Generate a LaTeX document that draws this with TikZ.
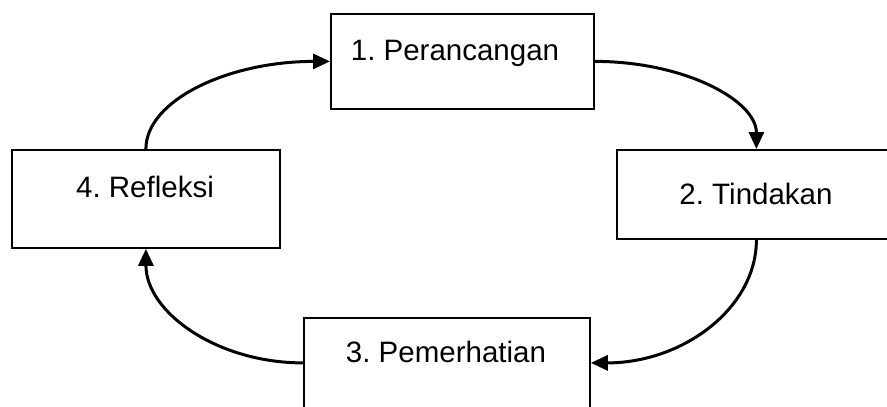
\documentclass[tikz,border=0pt]{standalone}
\usepackage{fontspec}
\setmainfont{Liberation Sans}
\usetikzlibrary{arrows.meta}
\frenchspacing
\begin{document}
\begin{tikzpicture}[x=1pt,y=-1pt,
  box/.style={draw=black,line width=1.8pt,fill=white,inner sep=0pt,anchor=north west},
  lbl/.style={anchor=base,inner sep=0pt,font=\fontsize{29.5}{35}\selectfont},
  conn/.style={line width=3pt,-{Triangle[length=17pt,width=15pt]}}]
\useasboundingbox (0,0) rectangle (887,407);
\clip (0,0) rectangle (887,407);
\fill[white] (0,0) rectangle (887,407);
\node[box,minimum width=263pt,minimum height=95pt] (b1) at (330,13) {};
\node[box,minimum width=279pt,minimum height=89pt] (b2) at (616,149) {};
\node[box,minimum width=286pt,minimum height=90pt] (b3) at (303,317) {};
\node[box,minimum width=268pt,minimum height=98pt] (b4) at (11,149) {};
\node[lbl] (t1) at (455,60) {1. Perancangan};
\node[lbl] (t2) at (756,204) {2. Tindakan};
\node[lbl] (t3) at (446,362) {3. Pemerhatian};
\node[lbl] (t4) at (145,197) {4. Refleksi};
\draw[conn] (b4.north) .. controls +(0,-48.6) and +(-102,0) .. (b1.west);
\draw[conn] (b1.east) .. controls +(89.5,0) and +(0,-48.6) .. (b2.north);
\draw[conn] (b2.south) .. controls +(0,68.5) and +(92,0) .. (b3.east);
\draw[conn] (b3.west) .. controls +(-86,0) and +(0,63.5) .. (b4.south);
\end{tikzpicture}
\end{document}
